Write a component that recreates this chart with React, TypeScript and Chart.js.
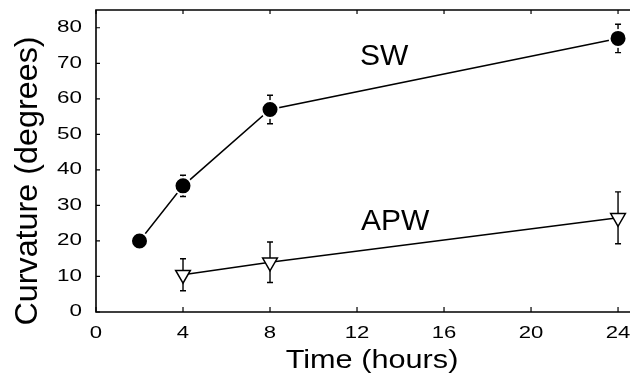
import React, { useEffect, useRef } from "react";
import { Chart, registerables } from "chart.js";

Chart.register(...registerables);

// Curvature over time for the two groups
const swHours = [2, 4, 8, 24];
const swCurvature = [20, 35.5, 57, 77];
const swError = [0, 3, 4, 4];

const apwHours = [4, 8, 24];
const apwCurvature = [10.5, 14, 26.5];
const apwError = [4.5, 5.7, 7.3];

const xTickLabels = [0, 4, 8, 12, 16, 20, 24];
const yTickLabels = [0, 10, 20, 30, 40, 50, 60, 70, 80];

const FONT = '"Liberation Sans", Arial, Helvetica, sans-serif';

function drawText(
  ctx: CanvasRenderingContext2D,
  text: string,
  x: number,
  y: number,
  size: number,
  sx: number,
  align: CanvasTextAlign,
  baseline: CanvasTextBaseline,
  rotate = 0
) {
  ctx.save();
  ctx.font = `${size}px ${FONT}`;
  ctx.fillStyle = "#000";
  ctx.textAlign = align;
  ctx.textBaseline = baseline;
  ctx.translate(x, y);
  if (rotate) ctx.rotate(rotate);
  ctx.scale(sx, 1);
  ctx.fillText(text, 0, 0);
  ctx.restore();
}

// Frame, inward ticks and error bars go underneath the markers
const framePlugin = {
  id: "frameAndErrors",
  beforeDatasetsDraw(chart: any) {
    const { ctx, chartArea: a, scales } = chart;
    const x = scales.x;
    const y = scales.y;
    ctx.save();
    ctx.strokeStyle = "#000";
    ctx.lineWidth = 1.6;
    ctx.beginPath();
    ctx.moveTo(a.right, a.top);
    ctx.lineTo(a.left, a.top);
    ctx.lineTo(a.left, a.bottom);
    ctx.lineTo(a.right, a.bottom);
    ctx.stroke();

    ctx.lineWidth = 1.2;
    ctx.beginPath();
    for (const v of yTickLabels) {
      const py = y.getPixelForValue(v);
      ctx.moveTo(a.left, py);
      ctx.lineTo(a.left + 4, py);
    }
    for (const v of xTickLabels) {
      const px = x.getPixelForValue(v);
      ctx.moveTo(px, a.bottom);
      ctx.lineTo(px, a.bottom - 5);
      ctx.moveTo(px, a.top);
      ctx.lineTo(px, a.top + 4);
    }
    ctx.stroke();

    // error bars
    ctx.lineWidth = 1.4;
    chart.data.datasets.forEach((ds: any) => {
      const errs: number[] = ds.errors || [];
      ds.data.forEach((p: { x: number; y: number }, i: number) => {
        const e = errs[i];
        if (!e) return;
        const px = x.getPixelForValue(p.x);
        const top = y.getPixelForValue(p.y + e);
        const bot = y.getPixelForValue(p.y - e);
        ctx.beginPath();
        ctx.moveTo(px, top);
        ctx.lineTo(px, bot);
        ctx.moveTo(px - 3, top);
        ctx.lineTo(px + 3, top);
        ctx.moveTo(px - 3, bot);
        ctx.lineTo(px + 3, bot);
        ctx.stroke();
      });
    });
    ctx.restore();
  },
  afterDraw(chart: any) {
    const { ctx, chartArea: a, scales } = chart;
    const x = scales.x;
    const y = scales.y;
    for (const v of yTickLabels) {
      drawText(ctx, String(v), a.left - 14, y.getPixelForValue(v), 16, 1.4, "right", "middle");
    }
    for (const v of xTickLabels) {
      drawText(ctx, String(v), x.getPixelForValue(v), a.bottom + 21, 17, 1.3, "center", "middle");
    }
    // series labels
    drawText(ctx, "SW", x.getPixelForValue(13.25), y.getPixelForValue(69.5), 30, 1, "center", "alphabetic");
    drawText(ctx, "APW", x.getPixelForValue(13.75), y.getPixelForValue(23.1), 30, 1, "center", "alphabetic");
    // axis titles
    drawText(ctx, "Time (hours)", 372, 368, 26, 1.18, "center", "alphabetic");
    drawText(ctx, "Curvature (degrees)", 28, 181, 32, 1.01, "center", "middle", -Math.PI / 2);
  },
};

export default function App() {
  const canvasRef = useRef<HTMLCanvasElement | null>(null);

  useEffect(() => {
    const canvas = canvasRef.current;
    if (!canvas) return;
    const chart = new Chart(canvas, {
      type: "scatter",
      data: {
        datasets: [
          {
            label: "SW",
            data: swHours.map((h, i) => ({ x: h, y: swCurvature[i] })),
            errors: swError,
            showLine: true,
            borderColor: "#000",
            borderWidth: 1.5,
            pointRadius: 8.5,
            pointHoverRadius: 8.5,
            pointBackgroundColor: "#000",
            pointBorderColor: "#fff",
            pointBorderWidth: 2,
            tension: 0,
            clip: false,
          } as any,
          {
            label: "APW",
            data: apwHours.map((h, i) => ({ x: h, y: apwCurvature[i] })),
            errors: apwError,
            showLine: true,
            borderColor: "#000",
            borderWidth: 1.5,
            pointStyle: "triangle",
            rotation: 180,
            pointRadius: 8.5,
            pointHoverRadius: 8.5,
            pointBackgroundColor: "#fff",
            pointBorderColor: "#000",
            pointBorderWidth: 1.5,
            tension: 0,
            clip: false,
          } as any,
        ],
      },
      options: {
        responsive: false,
        animation: false,
        events: [],
        layout: { autoPadding: false, padding: { top: 10, right: 0, bottom: 0, left: 0 } },
        plugins: {
          legend: { display: false },
          tooltip: { enabled: false },
        },
        scales: {
          x: {
            type: "linear",
            min: 0,
            max: 24.55,
            grid: { display: false },
            border: { display: false },
            ticks: { display: false },
            afterFit: (s: any) => {
              s.height = 67;
            },
          },
          y: {
            type: "linear",
            min: 0,
            max: 85,
            grid: { display: false },
            border: { display: false },
            ticks: { display: false },
            afterFit: (s: any) => {
              s.width = 96;
            },
          },
        },
      },
      plugins: [framePlugin],
    });
    return () => chart.destroy();
  }, []);

  return (
    <div style={{ position: "absolute", left: 0, top: 0, width: 630, height: 379, background: "#fff" }}>
      <canvas ref={canvasRef} width={630} height={379} />
    </div>
  );
}
